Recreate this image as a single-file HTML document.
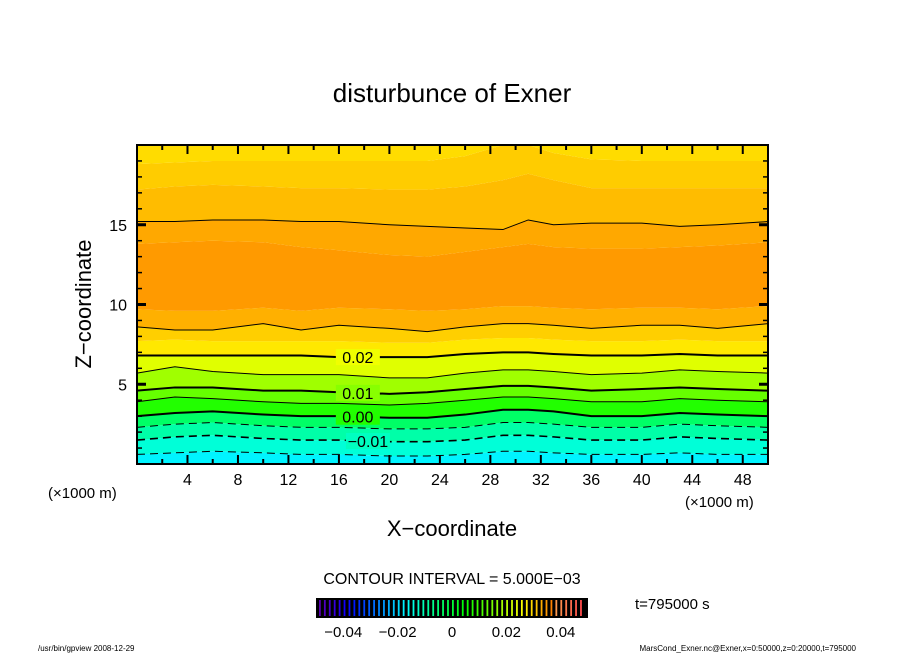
<!DOCTYPE html>
<html><head><meta charset="utf-8"><style>
body{margin:0;background:#fff;}
svg text{font-family:"Liberation Sans",sans-serif;fill:#000;}
</style></head><body>
<svg id="chart" width="904" height="654" viewBox="0 0 904 654" xmlns="http://www.w3.org/2000/svg">
<rect width="904" height="654" fill="#fff"/>
<text x="452" y="102" font-size="26" text-anchor="middle">disturbunce of Exner</text>
<g id="fills"></g>
<g id="lines"></g>
<g id="labels"></g>
<g id="axes"></g>
<text transform="translate(91,304) rotate(-90)" font-size="22" text-anchor="middle">Z−coordinate</text>
<text x="452" y="536" font-size="22" text-anchor="middle">X−coordinate</text>
<text x="48" y="498" font-size="15">(×1000 m)</text>
<text x="685" y="507" font-size="15">(×1000 m)</text>
<text x="452" y="584" font-size="16" text-anchor="middle">CONTOUR INTERVAL = 5.000E−03</text>
<g id="cbar"></g>
<text x="635" y="609" font-size="15">t=795000 s</text>
<text x="38" y="651" font-size="8">/usr/bin/gpview   2008-12-29</text>
<text x="856" y="651" font-size="8" text-anchor="end">MarsCond_Exner.nc@Exner,x=0:50000,z=0:20000,t=795000</text>
</svg>
<script>
const xs=[0,3,6,10,13,16,20,23,26,29,31,33,36,40,43,46,50];
const L_m015=[0.6,0.7,0.8,0.7,0.6,0.6,0.5,0.5,0.6,0.8,0.8,0.7,0.6,0.6,0.7,0.6,0.6];
const L_m010=[1.5,1.7,1.8,1.6,1.5,1.5,1.4,1.4,1.5,1.8,1.8,1.7,1.5,1.5,1.7,1.6,1.5];
const L_m005=[2.3,2.5,2.6,2.4,2.3,2.3,2.2,2.2,2.3,2.6,2.6,2.5,2.3,2.3,2.5,2.4,2.3];
const L_000=[3.0,3.2,3.3,3.1,3.0,3.0,2.9,2.9,3.1,3.4,3.4,3.3,3.0,3.0,3.2,3.1,3.0];
const L_005=[3.9,4.2,4.1,3.9,3.8,3.8,3.7,3.8,4.0,4.2,4.2,4.1,3.9,3.9,4.1,4.0,3.9];
const L_010=[4.6,4.8,4.8,4.6,4.6,4.5,4.4,4.5,4.7,4.9,4.9,4.8,4.6,4.7,4.8,4.7,4.6];
const L_015=[5.7,6.1,5.8,5.6,5.6,5.6,5.4,5.4,5.7,5.9,5.9,5.8,5.6,5.7,5.9,5.8,5.7];
const L_020=[6.8,6.8,6.8,6.8,6.8,6.7,6.7,6.7,6.9,7.0,7.0,6.9,6.8,6.8,6.9,6.8,6.8];
const B_1=[7.7,7.8,7.7,7.7,7.7,7.7,7.6,7.6,7.8,7.9,7.9,7.8,7.7,7.7,7.8,7.7,7.7];
const L_025a=[8.6,8.4,8.4,8.8,8.4,8.7,8.5,8.3,8.6,8.8,8.8,8.7,8.5,8.7,8.7,8.5,8.8];
const B_2=[9.7,9.6,9.6,9.8,9.6,9.8,9.7,9.6,9.7,9.9,9.9,9.8,9.7,9.8,9.8,9.7,9.9];
const B_3=[13.8,13.9,14.0,13.9,13.6,13.4,13.1,13.0,13.3,13.6,13.8,13.6,13.5,13.5,13.6,13.7,13.9];
const L_025b=[15.2,15.2,15.3,15.3,15.2,15.2,15.0,14.9,14.8,14.7,15.3,15.0,15.1,15.1,14.9,15.0,15.2];
const B_4=[17.2,17.4,17.5,17.4,17.3,17.3,17.2,17.2,17.4,17.8,18.2,17.8,17.3,17.3,17.3,17.3,17.3];
const B_5=[18.8,18.9,19.0,19.0,19.0,19.0,19.0,19.0,19.3,20,20,19.5,19.1,19.0,19.0,19.0,19.0];
const bandColors=["#00f4ff","#00ffd8","#00ffa8","#00ff66","#22ff00","#66ff00","#a0ff00","#e0ff00","#ffe800","#ffcf00","#ffb000","#ff9a00","#ffa800","#ffbc00","#ffcc00","#ffdc00"];
const xTicks=[4,8,12,16,20,24,28,32,36,40,44,48];
const zTicks=[5,10,15];
const cbTicks=[-0.04,-0.02,0,0.02,0.04];

const NS="http://www.w3.org/2000/svg";
const X0=137,X1=768,Y0=464,Y1=145;
const sx=x=>X0+(x/50)*(X1-X0);
const sz=z=>Y0-(z/20)*(Y0-Y1);
function mk(tag,attrs,parent){const e=document.createElementNS(NS,tag);for(const k in attrs)e.setAttribute(k,attrs[k]);parent.appendChild(e);return e;}
const zeroLine=xs.map(()=>0), topLine=xs.map(()=>20);
const bounds=[zeroLine,L_m015,L_m010,L_m005,L_000,L_005,L_010,L_015,L_020,B_1,L_025a,B_2,B_3,L_025b,B_4,B_5,topLine];
const fills=document.getElementById('fills');
for(let i=0;i<bounds.length-1;i++){
  const lo=bounds[i],hi=bounds[i+1];
  let pts=xs.map((x,j)=>sx(x)+','+sz(Math.min(hi[j],20)));
  pts=pts.concat(xs.map((x,j)=>sx(x)+','+sz(lo[j])).reverse());
  const p=mk('polygon',{points:pts.join(' '),fill:bandColors[i]},fills);
  
  
}
const lines=document.getElementById('lines');
const lineDefs=[[L_m015,1,true],[L_m010,1.6,true],[L_m005,1,true],[L_000,2,false],[L_005,1,false],[L_010,2,false],[L_015,1,false],[L_020,2,false],[L_025a,1,false],[L_025b,1,false]];
lineDefs.forEach(d=>{
  const p=mk('polyline',{points:xs.map((x,j)=>sx(x)+','+sz(d[0][j])).join(' '),fill:'none',stroke:'#000','stroke-width':d[1]},lines);
  if(d[2])p.setAttribute('stroke-dasharray','8,5');
  
  
});
const labs=document.getElementById('labels');
[["0.02",17.5,L_020,"#f0ff00"],["0.01",17.5,L_010,"#88ff00"],["0.00",17.5,L_000,"#22ff00"],["−0.01",18.3,L_m010,"#00ffc0"]].forEach(l=>{
  const j=5, z=l[2][j]+(l[2][j+1]-l[2][j])*((l[1]-xs[j])/(xs[j+1]-xs[j]));
  const r=mk('rect',{x:sx(l[1])-22,y:sz(z)-8,width:44,height:16,fill:l[3]},labs);
  
  
  const t=mk('text',{x:sx(l[1]),y:sz(z)+6,'font-size':16,'text-anchor':'middle'},labs);
  t.textContent=l[0];
  
  
});
const ax=document.getElementById('axes');
const fr=mk('rect',{x:X0,y:Y1,width:X1-X0,height:Y0-Y1,fill:'none',stroke:'#000','stroke-width':2},ax);


for(let x=2;x<50;x+=2){const L=x%4===0?9:5;
  mk('line',{x1:sx(x),x2:sx(x),y1:Y0,y2:Y0-L,stroke:'#000','stroke-width':2},ax);
  mk('line',{x1:sx(x),x2:sx(x),y1:Y1,y2:Y1+L,stroke:'#000','stroke-width':2},ax);}
for(let z=1;z<20;z++){const L=z%5===0?9:5;
  mk('line',{x1:X0,x2:X0+L,y1:sz(z),y2:sz(z),stroke:'#000','stroke-width':z%5===0?3:1.5},ax);
  mk('line',{x1:X1,x2:X1-L,y1:sz(z),y2:sz(z),stroke:'#000','stroke-width':z%5===0?3:1.5},ax);}
xTicks.forEach(x=>{const t=mk('text',{x:sx(x),y:485,'font-size':16,'text-anchor':'middle'},ax);t.textContent=x;
  
  });
zTicks.forEach(z=>{const t=mk('text',{x:127,y:sz(z)+6,'font-size':16,'text-anchor':'end'},ax);t.textContent=z;
  
  });
const cb=document.getElementById('cbar');
const C0=316,C1=588;
mk('rect',{x:C0,y:598,width:C1-C0,height:20,fill:'#000'},cb);
const n=54;
for(let i=0;i<n;i++){const f=i/(n-1);const h=270-f*270;
  mk('rect',{x:C0+3+i*(C1-C0-6)/n,y:600,width:1.8,height:16,fill:`hsl(${h<0?0:h},100%,${f<0.12?35+f*150:(f>0.9?65:50)}%)`},cb);}
const cx=v=>C0+(v+0.05)/0.1*(C1-C0);
cbTicks.forEach(v=>{const t=mk('text',{x:cx(v),y:637,'font-size':15,'text-anchor':'middle'},cb);
  t.textContent=v===0?'0':(v<0?'−':'')+Math.abs(v).toFixed(2);
  
  });
</script>
</body></html>
